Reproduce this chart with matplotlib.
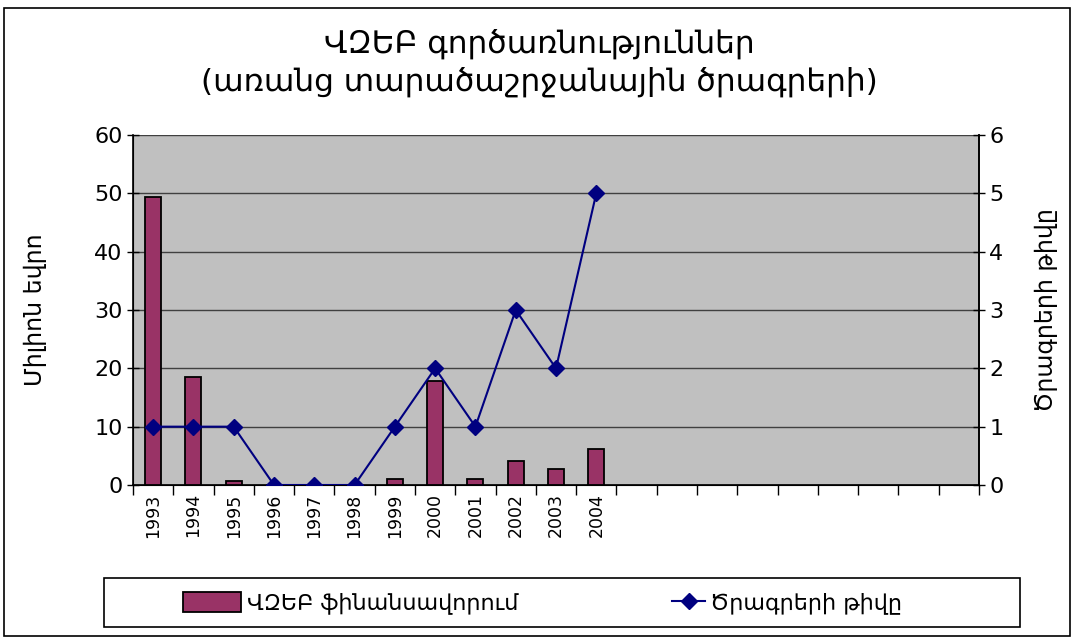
import matplotlib
matplotlib.use('Agg')
import matplotlib.pyplot as plt
import numpy as np
from matplotlib.patches import Rectangle

plt.rcParams['font.family'] = ['DejaVu Sans']

# ── data ─────────────────────────────────────────────────────────────────────
years = ['1993', '1994', '1995', '1996', '1997', '1998',
         '1999', '2000', '2001', '2002', '2003', '2004']
n_slots = 21                      # category axis has empty slots after 2004
funding = [49.3, 18.6, 0.7, 0, 0, 0, 1.1, 17.9, 1.1, 4.2, 2.8, 6.2]   # million EUR
projects = [1, 1, 1, 0, 0, 0, 1, 2, 1, 3, 2, 5]

title = 'ՎԶԵԲ գործառնություններ\n(առանց տարածաշրջանային ծրագրերի)'
ylabel_left = 'Միլիոն եվրո'
ylabel_right = 'Ծրագրերի թիվը'
legend_labels = ['ՎԶԵԲ ֆինանսավորում', 'Ծրագրերի թիվը']

BAR_COLOR = '#993366'
LINE_COLOR = '#000080'
PLOT_BG = '#C0C0C0'

# ── figure ───────────────────────────────────────────────────────────────────
W, H = 1079, 639
fig = plt.figure(figsize=(W / 100, H / 100), dpi=100)
fig.patches.append(Rectangle((0.004, 0.004), 0.988, 0.983, transform=fig.transFigure,
                             fill=False, edgecolor='black', linewidth=1.2))

ax = fig.add_axes([133 / W, 1 - 485 / H, (979 - 133) / W, 350 / H])
ax.set_facecolor(PLOT_BG)
x = np.arange(len(years))
bars = ax.bar(x, funding, width=0.4, color=BAR_COLOR, edgecolor='black',
              linewidth=1.3, zorder=3)

ax.set_xlim(-0.5, n_slots - 0.5)
ax.set_ylim(0, 60)
ax.set_yticks(range(0, 61, 10))
ax.yaxis.grid(True, color='#404040', linewidth=1.0, zorder=1)
ax.set_axisbelow(True)

# category boundaries as major ticks, year labels centred as minor ticks
ax.set_xticks(np.arange(-0.5, n_slots, 1.0))
ax.set_xticklabels([])
ax.set_xticks(x, minor=True)
ax.set_xticklabels(years, minor=True, rotation=90, fontsize=12.5)
ax.tick_params(axis='x', which='minor', length=0, pad=6)
ax.tick_params(axis='x', which='major', length=7, direction='out', width=1)
ax.tick_params(axis='y', labelsize=16, length=8, direction='inout', width=1)
ax.set_ylabel(ylabel_left, fontsize=17, labelpad=34)

ax.spines['top'].set_visible(False)
for side in ['left', 'bottom', 'right']:
    ax.spines[side].set_linewidth(1.2)

ax2 = ax.twinx()
line, = ax2.plot(np.arange(len(projects)), projects, color=LINE_COLOR, linewidth=1.5,
                 marker='D', markersize=8, zorder=5)
ax2.set_ylim(0, 6)
ax2.set_yticks(range(0, 7))
ax2.tick_params(axis='y', labelsize=16, length=8, direction='inout', width=1)
ax2.set_ylabel(ylabel_right, fontsize=17, rotation=90, labelpad=22)
ax2.spines['top'].set_visible(False)
ax2.spines['right'].set_linewidth(1.2)

fig.suptitle(title, fontsize=22.5, y=0.955, linespacing=1.3)

# legend: one box, two entries placed like the original
fig.patches.append(Rectangle((104 / W, 1 - 627 / H), (1020 - 104) / W, 49 / H,
                             transform=fig.transFigure, fill=False,
                             edgecolor='black', linewidth=1.2))
leg1 = fig.legend([bars], legend_labels[:1], loc='center left',
                  bbox_to_anchor=(163 / W, 1 - 603 / H), fontsize=16, frameon=False,
                  handlelength=2.6, handleheight=1.0, handletextpad=0.3)
leg2 = fig.legend([line], legend_labels[1:], loc='center left',
                  bbox_to_anchor=(652 / W, 1 - 603 / H), fontsize=16, frameon=False,
                  handlelength=1.5, handletextpad=0.2)

fig.savefig('out.png', dpi=100)
